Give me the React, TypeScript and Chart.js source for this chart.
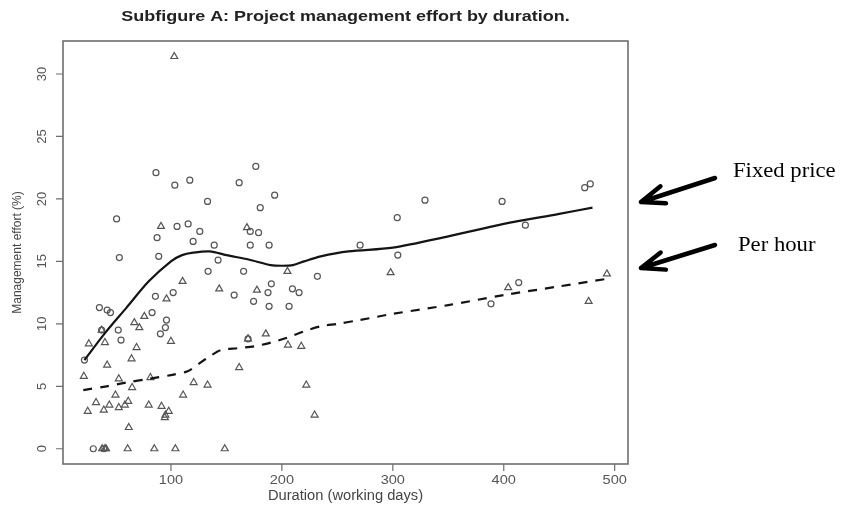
import React, { useEffect, useRef } from "react";
import { Chart, registerables } from "chart.js";

Chart.register(...registerables);

const TITLE = "Subfigure A: Project management effort by duration.";
const X_TITLE = "Duration (working days)";
const Y_TITLE = "Management effort (%)";
const X_TICKS = [100, 200, 300, 400, 500];
const Y_TICKS = [0, 5, 10, 15, 20, 25, 30];
const LABEL_FIXED = "Fixed price";
const LABEL_HOUR = "Per hour";

// Fixed price projects (circles)
const fixedX = [22, 30, 39.5, 35.5, 42.5, 45.5, 37.5, 52.5, 55, 51, 53.5, 83, 86, 86.5, 87.5, 89, 90.5, 95, 96, 102, 103.5, 105.5, 115.5, 117, 120, 126, 133, 133.5, 139, 142.5, 157, 161.5, 165.5, 169.5, 171.5, 171.5, 174.5, 176.5, 179, 180.5, 187.5, 188.5, 188.5, 190.5, 193.5, 206.5, 209.5, 215.5, 232, 270.5, 304, 304.5, 329, 388.5, 398.5, 413.5, 419.5, 473, 478];
const fixedY = [7.1, 0, 0, 11.3, 11.1, 10.9, 9.5, 9.5, 8.7, 18.4, 15.3, 10.9, 12.2, 22.1, 16.9, 15.4, 9.2, 9.7, 10.3, 12.5, 21.1, 17.8, 18.0, 21.5, 16.6, 17.4, 19.8, 14.2, 16.3, 15.1, 12.3, 21.3, 14.2, 8.8, 17.4, 16.3, 11.8, 22.6, 17.3, 19.3, 12.5, 16.3, 11.4, 13.2, 20.3, 11.4, 12.8, 12.5, 13.8, 16.3, 18.5, 15.5, 19.9, 11.6, 19.8, 13.3, 17.9, 20.9, 21.2];

// Per hour projects (triangles)
const hourX = [103, 91, 168.5, 205, 298, 143.5, 177.5, 110.5, 96, 76, 67, 71.5, 26, 40.5, 37.5, 100, 69, 64.5, 42.5, 21.5, 53, 81.5, 65, 120.5, 133, 50, 111, 32.5, 44.5, 39.5, 53, 58.5, 61.5, 25, 80, 91.5, 98, 95, 94.5, 62, 38, 40.5, 41.5, 61, 85, 104, 148.5, 169.5, 185.5, 205.5, 217.5, 161.5, 222, 229.5, 404, 476.5, 493];
const hourY = [31.4, 17.8, 17.7, 14.2, 14.1, 12.8, 12.7, 13.4, 12.0, 10.6, 10.1, 9.7, 8.4, 8.5, 9.5, 8.6, 8.1, 7.2, 6.7, 5.8, 5.6, 5.7, 4.9, 5.3, 5.1, 4.3, 4.3, 3.7, 3.5, 3.1, 3.3, 3.5, 3.8, 3.0, 3.5, 3.4, 3.0, 2.7, 2.5, 1.7, 0, 0, 0, 0, 0, 0, 0, 8.8, 9.2, 8.3, 8.2, 6.5, 5.1, 2.7, 12.9, 11.8, 14.0];

// Smoothed trend curves
const fixedCurveX = [22, 40, 60, 80, 100, 110, 120, 135, 150, 170, 190, 200, 210, 220, 235, 260, 300, 350, 400, 450, 480];
const fixedCurveY = [7.1, 9.2, 11.3, 13.4, 15.0, 15.5, 15.7, 15.8, 15.5, 15.15, 14.7, 14.65, 14.7, 15.0, 15.4, 15.8, 16.1, 17.0, 18.0, 18.8, 19.3];
const hourCurveX = [21, 42, 60, 80, 100, 115, 125, 135, 145, 160, 175, 190, 205, 220, 235, 250, 270, 300, 350, 400, 450, 493];
const hourCurveY = [4.7, 5.0, 5.3, 5.6, 5.9, 6.2, 6.8, 7.4, 7.9, 8.05, 8.2, 8.5, 8.9, 9.4, 9.8, 10.0, 10.3, 10.8, 11.5, 12.3, 13.0, 13.6];

const toPts = (xs: number[], ys: number[]) => xs.map((x, i) => ({ x, y: ys[i] }));

const SANS = "'Liberation Sans', Arial, Helvetica, sans-serif";
const SERIF = "'Liberation Serif', 'Times New Roman', serif";

function txt(ctx: CanvasRenderingContext2D, s: string, x: number, y: number, font: string, color: string, align: CanvasTextAlign, sx = 1, rot = 0) {
  ctx.save();
  ctx.translate(x, y);
  if (rot) ctx.rotate(rot);
  ctx.scale(sx, 1);
  ctx.font = font;
  ctx.fillStyle = color;
  ctx.textAlign = align;
  ctx.textBaseline = "middle";
  ctx.fillText(s, 0, 0);
  ctx.restore();
}

function arrow(ctx: CanvasRenderingContext2D, x0: number, y0: number, x1: number, y1: number) {
  const ang = Math.atan2(y0 - y1, x0 - x1);
  const len = 25;
  const spread = (21 * Math.PI) / 180;
  ctx.save();
  ctx.strokeStyle = "#000";
  ctx.lineWidth = 4.5;
  ctx.lineCap = "round";
  ctx.lineJoin = "round";
  ctx.beginPath();
  ctx.moveTo(x0, y0);
  ctx.lineTo(x1, y1);
  ctx.moveTo(x1 + len * Math.cos(ang - spread), y1 + len * Math.sin(ang - spread));
  ctx.lineTo(x1, y1);
  ctx.lineTo(x1 + len * Math.cos(ang + spread), y1 + len * Math.sin(ang + spread));
  ctx.stroke();
  ctx.restore();
}

const rPlot = {
  id: "rplot",
  afterDraw(chart: any) {
    const { ctx, chartArea: a, scales } = chart;
    const xs = scales.x;
    const ys = scales.y;
    ctx.save();
    // frame
    ctx.strokeStyle = "#6e6e6e";
    ctx.lineWidth = 1.6;
    ctx.strokeRect(a.left, a.top, a.right - a.left, a.bottom - a.top);
    // ticks
    ctx.lineWidth = 1.2;
    ctx.beginPath();
    X_TICKS.forEach((v) => {
      const px = xs.getPixelForValue(v);
      ctx.moveTo(px, a.bottom);
      ctx.lineTo(px, a.bottom + 7);
    });
    Y_TICKS.forEach((v) => {
      const py = ys.getPixelForValue(v);
      ctx.moveTo(a.left, py);
      ctx.lineTo(a.left - 7, py);
    });
    ctx.stroke();
    ctx.restore();

    X_TICKS.forEach((v) => {
      txt(ctx, String(v), xs.getPixelForValue(v), a.bottom + 16, `13px ${SANS}`, "#555", "center", 1.12);
    });
    Y_TICKS.forEach((v) => {
      txt(ctx, String(v), a.left - 21, ys.getPixelForValue(v), `13px ${SANS}`, "#555", "center", 1, -Math.PI / 2);
    });
    const cx = (a.left + a.right) / 2;
    const cy = (a.top + a.bottom) / 2;
    txt(ctx, X_TITLE, cx, a.bottom + 32, `14px ${SANS}`, "#444", "center", 1.05);
    txt(ctx, Y_TITLE, 18, cy, `12px ${SANS}`, "#444", "center", 1, -Math.PI / 2);
    txt(ctx, TITLE, cx, 17, `bold 15.5px ${SANS}`, "#222", "center", 1.16);

    // annotations
    txt(ctx, LABEL_FIXED, 733, 171, `21px ${SERIF}`, "#000", "left", 1.08);
    txt(ctx, LABEL_HOUR, 738, 245, `21px ${SERIF}`, "#000", "left", 1.08);
    arrow(ctx, 715, 178, 641, 202);
    arrow(ctx, 715, 245, 641, 268);
  },
};

export default function App() {
  const ref = useRef<HTMLCanvasElement | null>(null);
  useEffect(() => {
    if (!ref.current) return;
    const chart = new Chart(ref.current, {
      type: "scatter",
      data: {
        datasets: [
          {
            label: "Fixed price trend",
            data: toPts(fixedCurveX, fixedCurveY),
            showLine: true,
            borderColor: "#141414",
            borderWidth: 2.2,
            pointRadius: 0,
            tension: 0.3,
            fill: false,
          },
          {
            label: "Per hour trend",
            data: toPts(hourCurveX, hourCurveY),
            showLine: true,
            borderColor: "#141414",
            borderWidth: 2.2,
            borderDash: [9, 8],
            pointRadius: 0,
            tension: 0.3,
            fill: false,
          },
          {
            label: LABEL_FIXED,
            data: toPts(fixedX, fixedY),
            pointStyle: "circle",
            pointRadius: 3,
            borderWidth: 1.2,
            borderColor: "#555",
            backgroundColor: "rgba(0,0,0,0)",
          },
          {
            label: LABEL_HOUR,
            data: toPts(hourX, hourY),
            pointStyle: "triangle",
            pointRadius: 4,
            borderWidth: 1.2,
            borderColor: "#555",
            backgroundColor: "rgba(0,0,0,0)",
          },
        ],
      },
      options: {
        responsive: false,
        devicePixelRatio: 1,
        animation: false,
        layout: { padding: { left: 63, right: 215, top: 41, bottom: 45 } },
        plugins: { legend: { display: false }, tooltip: { enabled: false } },
        scales: {
          x: { type: "linear", min: 2.7, max: 512, display: false },
          y: { type: "linear", min: -1.22, max: 32.64, display: false },
        },
      },
      plugins: [rPlot],
    });
    return () => chart.destroy();
  }, []);
  return (
    <div style={{ position: "absolute", left: 0, top: 0, width: 843, height: 509, background: "#fff" }}>
      <canvas ref={ref} width={843} height={509} style={{ display: "block" }} />
    </div>
  );
}
